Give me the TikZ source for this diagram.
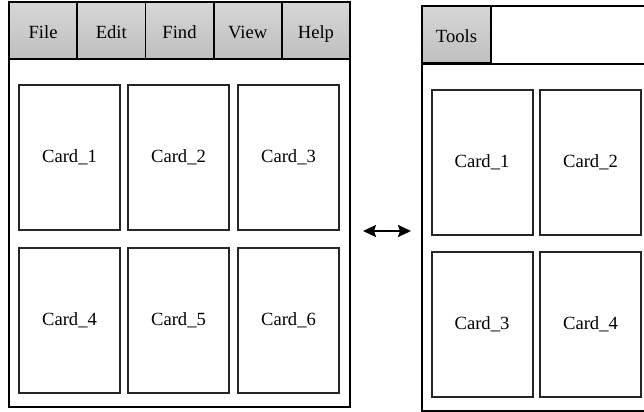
\documentclass[tikz,border=0pt]{standalone}
\usepackage{fontspec}
\setmainfont{Liberation Serif}
\newfontfamily\labelfont{Liberation Serif}
\usetikzlibrary{arrows.meta}
\begin{document}
\begin{tikzpicture}[x=0.5pt, y=-0.5pt,
    window/.style ={draw, line width=1pt, minimum width=170.5pt, minimum height=202.5pt, inner sep=0pt},
    menu/.style ={draw, line width=0.9pt, top color=black!16, bottom color=black!25, minimum width=34.1pt, minimum height=28.5pt, inner sep=0pt, text height=7.6pt, text depth=0pt, font=\labelfont\fontsize{9.3}{11}\selectfont},
    card/.style ={draw=black!85, line width=1pt, minimum width=50.5pt, minimum height=72.5pt, inner sep=0pt, font=\labelfont\fontsize{9.3}{11}\selectfont}]
   \path[use as bounding box, clip] (0,0) rectangle (644,412);

   % left window
   \node[window] (W1) at (179.5,204.5) {};
   \node[menu] (File) at (43.1,30.5)  {File};
   \node[menu] (Edit) at (111.3,30.5) {Edit};
   \node[menu] (Find) at (179.5,30.5) {Find};
   \node[menu] (View) at (247.7,30.5) {View};
   \node[menu] (Help) at (315.9,30.5) {Help};

   \node[card] (A1) at (69.5,157.5)  {Card\_1};
   \node[card] (A2) at (178.5,157.5) {Card\_2};
   \node[card] (A3) at (288.5,157.5) {Card\_3};
   \node[card] (A4) at (69.5,320)    {Card\_4};
   \node[card] (A5) at (178.5,320)   {Card\_5};
   \node[card] (A6) at (288.5,320)   {Card\_6};

   % right window
   \node[window, minimum width=139pt] (W2) at (561,208.5) {};
   \node[menu, minimum width=34.5pt] (Tools) at (456.5,34.5) {Tools};
   \draw[line width=1pt] (Tools.south west) -- (Tools.south west -| W2.east);

   \node[card] (B1) at (482,162)    {Card\_1};
   \node[card] (B2) at (590.5,162)  {Card\_2};
   \node[card] (B3) at (482,324.5)  {Card\_3};
   \node[card] (B4) at (590.5,324.5) {Card\_4};

   % switch
   \coordinate (L) at (363,231);
   \coordinate (R) at (411,231);
   \draw[line width=1pt, {Stealth[length=6.5pt,width=6pt,inset=1pt]}-{Stealth[length=6.5pt,width=6pt,inset=1pt]}] (L) to (R);
\end{tikzpicture}
\end{document}
